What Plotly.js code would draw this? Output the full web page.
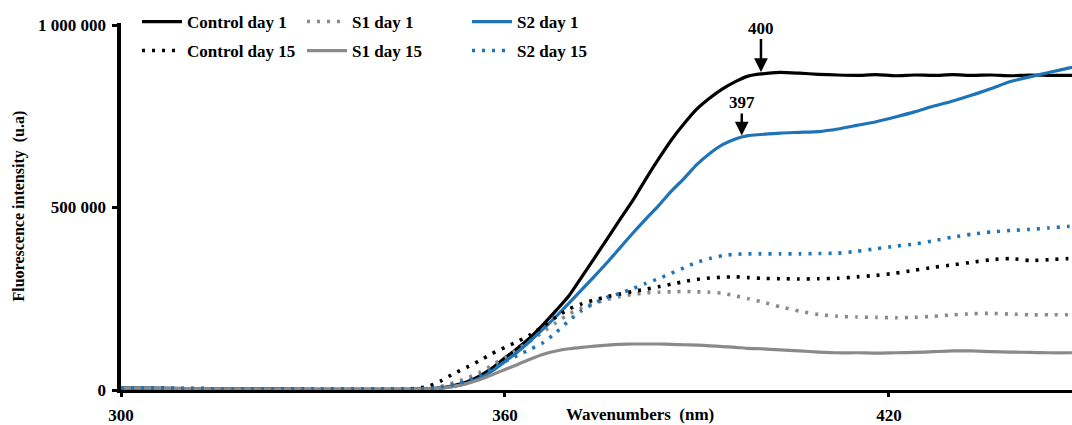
<!DOCTYPE html>
<html>
<head>
<meta charset="utf-8">
<script src="https://cdn.plot.ly/plotly-3.0.1.min.js"></script>
<style>html,body{margin:0;padding:0;background:#fff;}#chart{width:1072px;height:425px;}</style>
</head>
<body>
<div id="chart"></div>
<script>
// Wavelengths (nm)
const wavelength = [300,310,320,330,340,345,348,
  350,352,354,356,358,360,362,364,366,368,370,372,374,376,378,380,382,384,386,388,390,392,394,396,398,400,
  403,406,409,412,415,418,421,424,427,430,433,436,439,442,445,448,451];

// Fluorescence intensity (thousands of u.a.)
const controlDay1 = [6,4,3,2,2,2,3,
  6,12,22,38,60,88,115,145,180,218,258,310,362,415,468,520,578,633,685,730,770,800,825,845,860,866,
  870,868,865,863,862,864,861,863,862,864,862,863,861,863,862,862,862];
const s1Day1 = [6,4,3,2,2,2,5,
  10,20,32,48,68,90,112,135,160,185,208,225,238,248,256,262,266,268,269,270,269,268,265,258,250,242,
  228,216,207,202,200,199,198,199,202,206,209,210,208,206,206,206,206];
const s2Day1 = [6,4,3,2,2,2,3,
  5,10,18,32,52,78,105,135,168,202,238,275,312,350,390,430,468,505,545,580,618,648,672,688,697,700,
  704,706,708,715,725,735,748,762,778,792,808,826,845,858,870,882,892];
const controlDay15 = [5,4,3,2,2,3,10,
  25,45,62,80,100,117,133,152,175,200,222,236,247,256,263,270,276,283,290,297,303,307,309,310,308,306,
  305,304,305,306,310,314,320,328,336,343,350,357,360,355,357,360,360];
const s1Day15 = [6,4,3,2,2,2,3,
  5,10,18,28,42,56,70,85,98,107,113,117,120,123,125,126,126,126,125,124,123,121,119,117,114,113,
  110,107,104,102,102,101,102,103,105,107,107,105,104,103,102,102,102];
const s2Day15 = [6,4,3,2,2,2,4,
  8,15,25,40,58,78,95,112,130,158,190,218,238,254,265,278,292,305,320,335,350,360,368,372,373,373,
  373,373,374,375,380,387,394,400,409,419,427,433,437,440,444,448,450];

const yTickVals = [0, 500000, 1000000];
const yTickText = ['0', '500 000', '1 000 000'];
const xTickVals = [300, 360, 420];
const peakLabels = ['400', '397'];

const k = v => v.map(d => d * 1000);

const BLACK = '#000000', GREY = '#8a8a8a', BLUE = '#1f74b8';
const DOT = '3px,7px';
const fontB = {family: '"Liberation Serif", "Times New Roman", serif', size: 17, color: '#000', weight: 'bold'};

const traces = [
  {name: 'Control day 1', y: k(controlDay1), line: {color: BLACK, width: 3.2}, legend: 'legend'},
  {name: 'S1 day 1', y: k(s1Day1), line: {color: GREY, width: 3.6, dash: DOT}, legend: 'legend'},
  {name: 'S2 day 1', y: k(s2Day1), line: {color: BLUE, width: 3.2}, legend: 'legend'},
  {name: 'Control day 15', y: k(controlDay15), line: {color: BLACK, width: 3.6, dash: DOT}, legend: 'legend2'},
  {name: 'S1 day 15', y: k(s1Day15), line: {color: GREY, width: 3.2}, legend: 'legend2'},
  {name: 'S2 day 15', y: k(s2Day15), line: {color: BLUE, width: 3.6, dash: DOT}, legend: 'legend2'}
].map(t => Object.assign({x: wavelength, type: 'scatter', mode: 'lines'}, t));
traces.forEach(t => { t.line.shape = 'spline'; t.line.smoothing = 0.6; });

const i400 = wavelength.indexOf(400);
const i396 = wavelength.indexOf(396), i398 = wavelength.indexOf(398);
const y397 = (s2Day1[i396] + s2Day1[i398]) / 2 * 1000;

const legendBase = {
  orientation: 'h', xref: 'container', yref: 'container', xanchor: 'left', yanchor: 'middle',
  entrywidth: 110, entrywidthmode: 'pixels', itemwidth: 40, bgcolor: 'rgba(0,0,0,0)',
  font: fontB, tracegroupgap: 0
};

const layout = {
  width: 1072, height: 425,
  margin: {l: 121, r: 0, t: 23, b: 35, autoexpand: false},
  paper_bgcolor: '#fff', plot_bgcolor: '#fff',
  showlegend: true,
  legend: Object.assign({}, legendBase, {x: 137 / 1072, y: 1 - 22 / 425}),
  legend2: Object.assign({}, legendBase, {x: 137 / 1072, y: 1 - 51 / 425}),
  xaxis: {
    range: [300, 448.6], tickvals: xTickVals, ticks: 'outside', ticklen: 4, tickwidth: 3, tickcolor: '#000',
    showline: true, linecolor: '#000', linewidth: 3, showgrid: false, zeroline: false,
    tickfont: fontB, ticklabelstandoff: 4, automargin: false
  },
  yaxis: {
    range: [0, 1005500], tickvals: yTickVals, ticktext: yTickText, ticks: 'outside', ticklen: 5, tickwidth: 3,
    tickcolor: '#000', showline: true, linecolor: '#000', linewidth: 4.5, showgrid: false, zeroline: false,
    tickfont: fontB, ticklabelstandoff: 2, automargin: false
  },
  annotations: [
    {xref: 'paper', yref: 'paper', x: (640 - 121) / 951, y: (390 - 414) / 367, xanchor: 'center', yanchor: 'middle',
     text: 'Wavenumbers  (nm)', showarrow: false, font: fontB},
    {xref: 'paper', yref: 'paper', x: (18 - 121) / 951, y: 0.5, xanchor: 'center', yanchor: 'middle', textangle: -90,
     text: 'Fluorescence intensity  (u.a)', showarrow: false,
     font: {family: '"Liberation Serif", serif', size: 16, color: '#000', weight: 'bold'}},
    {x: 400, y: controlDay1[i400] * 1000 + 5000, text: peakLabels[0], showarrow: true, arrowhead: 2, arrowsize: 1.1,
     arrowwidth: 2.5, arrowcolor: '#000', ax: 0, ay: -44, font: fontB},
    {x: 397, y: y397 + 5000, text: peakLabels[1], showarrow: true, arrowhead: 2, arrowsize: 1.1,
     arrowwidth: 2.5, arrowcolor: '#000', ax: 0, ay: -33, font: fontB}
  ]
};

Plotly.newPlot('chart', traces, layout, {displayModeBar: false, staticPlot: true});
</script>
</body>
</html>
